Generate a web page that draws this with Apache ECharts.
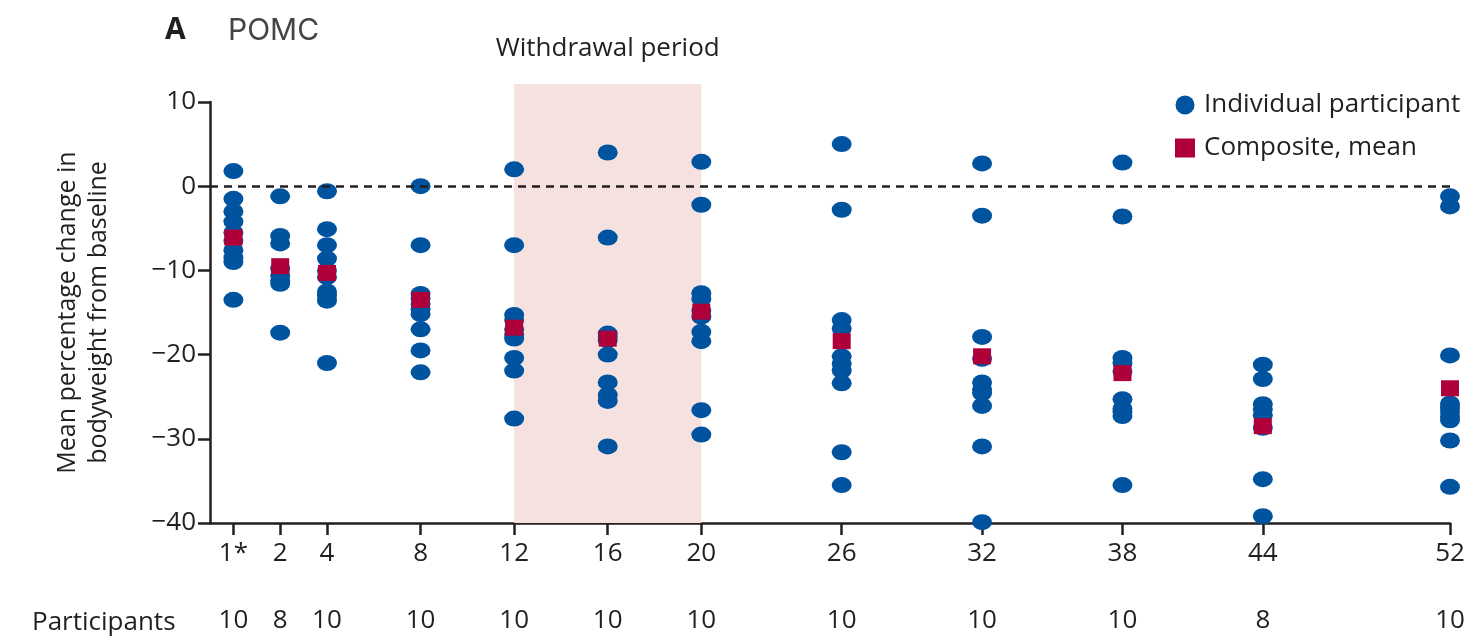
<!DOCTYPE html>
<html><head><meta charset="utf-8">
<script src="https://cdn.jsdelivr.net/npm/echarts@6/dist/echarts.min.js"></script>
<style>html,body{margin:0;padding:0;background:#fff}#c{width:1471px;height:638px}</style>
</head><body><div id="c"></div>
<script>
// ---- data ----
const weekPositions = [0, 2, 4, 8, 12, 16, 20, 26, 32, 38, 44, 52];
const weekLabels = ['1*', '2', '4', '8', '12', '16', '20', '26', '32', '38', '44', '52'];
const participants = [10, 8, 10, 10, 10, 10, 10, 10, 10, 10, 8, 10];
const yTicks = [10, 0, -10, -20, -30, -40];

const week1 = [1.8, -1.5, -3.0, -4.2, -5.5, -6.5, -7.6, -8.5, -9.0, -13.5];
const week2 = [-1.2, -5.9, -6.8, -9.8, -10.6, -11.2, -11.6, -17.4];
const week4 = [-0.6, -5.1, -7.0, -8.6, -10.0, -10.8, -12.5, -13.0, -13.6, -21.0];
const week8 = [0.0, -7.0, -12.8, -13.3, -14.0, -14.6, -15.2, -17.0, -19.5, -22.1];
const week12 = [2.0, -7.0, -15.3, -15.9, -17.0, -17.6, -18.1, -20.4, -21.9, -27.6];
const week16 = [4.0, -6.1, -17.5, -17.9, -18.3, -20.0, -23.3, -24.8, -25.5, -30.9];
const week20 = [2.9, -2.2, -12.7, -13.4, -14.8, -15.5, -17.3, -18.4, -26.6, -29.5];
const week26 = [5.0, -2.8, -15.9, -16.9, -20.2, -21.1, -21.9, -23.4, -31.6, -35.5];
const week32 = [2.7, -3.5, -17.9, -20.5, -23.3, -24.2, -24.6, -26.1, -30.9, -39.9];
const week38 = [2.8, -3.6, -20.4, -21.0, -22.0, -25.3, -26.4, -26.8, -27.3, -35.5];
const week44 = [-21.2, -22.9, -25.9, -26.5, -27.2, -28.7, -34.8, -39.2];
const week52 = [-1.2, -2.4, -20.1, -25.8, -26.3, -26.8, -27.4, -27.8, -30.2, -35.7];
const individual = [week1, week2, week4, week8, week12, week16, week20, week26, week32, week38, week44, week52];

const compositeMean = [-6.1, -9.5, -10.3, -13.5, -16.8, -18.1, -14.9, -18.4, -20.2, -22.2, -28.5, -24.0];

const withdrawalStart = 12, withdrawalEnd = 20, withdrawalTop = 12.1;

// ---- chart ----
const FONT = '"Open Sans", sans-serif';
const INK = '#231f20';
const BLUE = '#00539f';
const RED = '#b0003a';

const indivData = [];
individual.forEach((arr, i) => arr.forEach(v => indivData.push([weekPositions[i], v])));
const meanData = compositeMean.map((v, i) => [weekPositions[i], v]);

const chart = echarts.init(document.getElementById('c'), null, {renderer: 'canvas'});
chart.setOption({
  animation: false,
  backgroundColor: '#fff',
  textStyle: {fontFamily: FONT},
  title: [
    {text: 'A', left: 160, top: 10, textStyle: {fontSize: 30, fontWeight: 'bold', color: INK, fontFamily: FONT}},
    {text: 'POMC', left: 223, top: 11, textStyle: {fontSize: 30, fontWeight: 'normal', color: '#444', fontFamily: 'Inter, sans-serif'}},
    {text: 'Participants', left: 27, top: 605, textStyle: {fontSize: 26, fontWeight: 'normal', color: INK, fontFamily: FONT}}
  ],
  legend: {
    orient: 'vertical', left: 1170, top: 87, itemWidth: 20, itemHeight: 19, itemGap: 17,
    textStyle: {fontSize: 26, color: INK, fontFamily: FONT, padding: [0, 0, 0, 4]},
    data: [{name: 'Individual participant', icon: 'circle'}, {name: 'Composite, mean', icon: 'rect'}]
  },
  grid: [
    {left: 210, right: 21, top: 102, bottom: 115},
    {left: 210, right: 21, top: 84, bottom: 115}
  ],
  xAxis: [
    {
      gridIndex: 0, type: 'value', min: -1, max: 52, position: 'bottom',
      axisLine: {onZero: false, lineStyle: {color: INK, width: 2.5}},
      axisTick: {show: true, customValues: weekPositions, length: 12, lineStyle: {color: INK, width: 2.5}},
      axisLabel: {customValues: weekPositions, formatter: v => weekLabels[weekPositions.indexOf(v)], fontSize: 26, margin: 18, color: INK, fontFamily: FONT},
      splitLine: {show: false}
    },
    {
      gridIndex: 0, type: 'value', min: -1, max: 52, position: 'bottom', offset: 71,
      axisLine: {show: false, onZero: false}, axisTick: {show: false},
      axisLabel: {customValues: weekPositions, formatter: v => String(participants[weekPositions.indexOf(v)]), fontSize: 26, margin: 14, color: INK, fontFamily: FONT},
      splitLine: {show: false}
    },
    {
      gridIndex: 1, type: 'value', min: -1, max: 52, show: false
    }
  ],
  yAxis: [
    {
      gridIndex: 0, type: 'value', min: -40, max: 10, interval: 10,
      axisLine: {show: true, onZero: false, lineStyle: {color: INK, width: 2.5}},
      axisTick: {show: true, length: 12, lineStyle: {color: INK, width: 2.5}},
      axisLabel: {fontSize: 26, margin: 14, color: INK, fontFamily: FONT, formatter: v => v < 0 ? '\u2212' + Math.abs(v) : String(v)},
      splitLine: {show: false},
      name: 'Mean percentage change in\nbodyweight from baseline',
      nameLocation: 'middle', nameGap: 96,
      nameTextStyle: {fontSize: 25, color: INK, lineHeight: 31, fontFamily: FONT}
    },
    {
      gridIndex: 1, type: 'value', min: -40, max: withdrawalTop, show: false
    }
  ],
  series: [
    {
      name: 'withdrawal', type: 'scatter', data: [], xAxisIndex: 2, yAxisIndex: 1, z: 0, silent: true,
      markArea: {
        silent: true, itemStyle: {color: '#f5e1df'},
        label: {show: true, position: 'top', distance: 22, formatter: 'Withdrawal period', fontSize: 26, color: INK, fontFamily: FONT},
        data: [[{xAxis: withdrawalStart, yAxis: -40}, {xAxis: withdrawalEnd, yAxis: withdrawalTop}]]
      }
    },
    {
      name: 'zero', type: 'scatter', data: [], xAxisIndex: 0, yAxisIndex: 0, z: 1, silent: true,
      markLine: {
        silent: true, symbol: 'none', label: {show: false},
        lineStyle: {type: [8, 6], color: INK, width: 2.5},
        data: [{yAxis: 0}]
      }
    },
    {
      name: 'Individual participant', type: 'scatter', z: 3, clip: false,
      xAxisIndex: 0, yAxisIndex: 0,
      symbol: 'circle', symbolSize: [20, 16],
      itemStyle: {color: BLUE, opacity: 1},
      data: indivData
    },
    {
      name: 'Composite, mean', type: 'scatter', z: 4, clip: false,
      xAxisIndex: 0, yAxisIndex: 0,
      symbol: 'rect', symbolSize: [18, 16],
      itemStyle: {color: RED, opacity: 1},
      data: meanData
    }
  ]
});
</script></body></html>
